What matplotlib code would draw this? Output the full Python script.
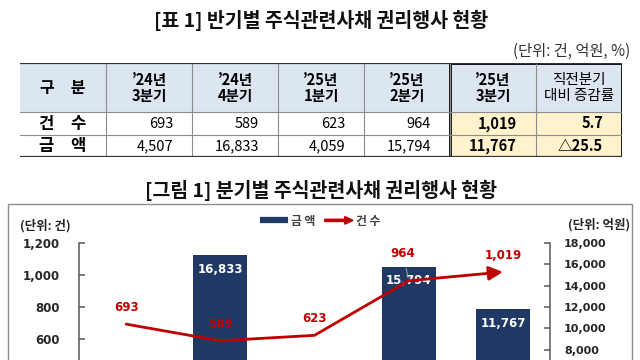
import numpy as np
import matplotlib
matplotlib.use('Agg')
import matplotlib.pyplot as plt
from matplotlib.patches import Rectangle, FancyArrow, Patch
from matplotlib.lines import Line2D
from matplotlib.legend_handler import HandlerPatch

plt.rcParams['font.family'] = ['Noto Sans CJK KR', 'DejaVu Sans']

# data
quarters = ["’24년\n3분기", "’24년\n4분기", "’25년\n1분기", "’25년\n2분기", "’25년\n3분기"]
change_header = "직전분기\n대비 증감률"
row_names = ["건\u3000수", "금\u3000액"]
counts = [693, 589, 623, 964, 1019]
amounts = [4507, 16833, 4059, 15794, 11767]
changes = ["5.7", "△25.5"]
count_ticks = [0, 200, 400, 600, 800, 1000, 1200]
amount_ticks = [0, 2000, 4000, 6000, 8000, 10000, 12000, 14000, 16000, 18000]

NAVY = '#1F3864'
RED = '#C00000'
GRID = '#8C8C8C'
W, H = 640, 360


def box(l, t, r, b):
    # pixel box (top-left origin) -> figure fraction
    return [l / W, 1 - b / H, (r - l) / W, (b - t) / H]


fig = plt.figure(figsize=(6.4, 3.6), dpi=100)

fig.text(321 / W, 1 - 20 / H, "[표 1] 반기별 주식관련사채 권리행사 현황",
         ha='center', va='center', fontsize=14, fontweight='bold', color='#111111')
fig.text(630 / W, 1 - 51 / H, "(단위: 건, 억원, %)", ha='right', va='center',
         fontsize=11, color='#333333')

# ---- table ----
tab = fig.add_axes(box(20, 63, 622, 157))
tab.set_xlim(0, 7)
tab.set_ylim(94, 0)
tab.axis('off')

header = ["구\u3000분"] + quarters + [change_header]
body = [[row_names[0]] + [f"{v:,}" for v in counts] + [changes[0]],
        [row_names[1]] + [f"{v:,}" for v in amounts] + [changes[1]]]
rows_y = [(49, 72), (72, 94)]

tab.add_patch(Rectangle((0, 0), 7, 49, fc='#DCE6F1', ec='none'))
tab.add_patch(Rectangle((5, 49), 2, 45, fc='#FFF2CC', ec='none'))

for xv in range(1, 7):
    tab.plot([xv, xv], [0, 94], color=GRID, lw=0.8)
for yv in (49, 72):
    tab.plot([0, 7], [yv, yv], color=GRID, lw=0.8)
tab.plot([0, 7], [0, 0], color='#333333', lw=1.6, solid_capstyle='butt')
tab.plot([0, 7], [94, 94], color='#333333', lw=1.6, solid_capstyle='butt')
tab.add_patch(Rectangle((5, 0), 2, 94, fill=False, ec='black', lw=2.0))

for i, txt in enumerate(header):
    if i == 0:
        tab.text(0.5, 25, txt, ha='center', va='center', fontsize=11.5, fontweight='bold')
    elif i == 6:
        tab.text(i + 0.5, 25, txt, ha='center', va='center', fontsize=10.5,
                 linespacing=1.1)
    else:
        tab.text(i + 0.5, 25, txt, ha='center', va='center', fontsize=10.5,
                 fontweight='bold', linespacing=0.95)

for r, row in enumerate(body):
    y0, y1 = rows_y[r]
    yc = (y0 + y1) / 2
    for i, txt in enumerate(row):
        if i == 0:
            tab.text(0.5, yc, txt, ha='center', va='center', fontsize=12, fontweight='bold')
        else:
            tab.text(i + 1 - 0.22, yc, txt, ha='right', va='center', fontsize=10.5,
                     fontweight='bold' if i >= 5 else 'normal')

# ---- chart ----
fig.text(321 / W, 1 - 190 / H, "[그림 1] 분기별 주식관련사채 권리행사 현황",
         ha='center', va='center', fontsize=14, fontweight='bold', color='#111111')
fig.add_artist(Rectangle((8 / W, -0.1), (632 - 8) / W, 1 - 204 / H + 0.1,
                         transform=fig.transFigure, fill=False, ec='#8C8C8C', lw=1))

fig.text(20 / W, 1 - 226 / H, "(단위: 건)", ha='left', va='center', fontsize=9,
         fontweight='bold', color='#262626')
fig.text(630 / W, 1 - 225 / H, "(단위: 억원)", ha='right', va='center', fontsize=9,
         fontweight='bold', color='#262626')

x = np.arange(len(counts))
axb = fig.add_axes(box(79, 243, 550, 435))
axb.patch.set_visible(False)
axb.bar(x, amounts, width=0.57, color=NAVY, zorder=2)
axb.set_xlim(-0.5, 4.5)
axb.set_ylim(0, 18000)

axl = axb.twinx()
axl.set_ylim(0, 1200)
axl.plot(x[:-1], counts[:-1], color=RED, lw=2, solid_joinstyle='round',
         solid_capstyle='round', zorder=3)
axl.annotate('', xy=(x[-1], counts[-1]), xytext=(x[-2], counts[-2]),
             arrowprops=dict(arrowstyle='-|>,head_length=0.7,head_width=0.35',
                             color=RED, lw=2, shrinkA=0, shrinkB=0,
                             mutation_scale=12))

for ax in (axb, axl):
    for s in ax.spines.values():
        s.set_visible(False)
    ax.set_xticks([])

axb.spines['right'].set_visible(True)
axb.spines['right'].set_color('#595959')
axb.spines['right'].set_linewidth(1.1)
axb.yaxis.tick_right()
axb.set_yticks(amount_ticks)
axb.set_yticklabels([f"{v:,}" for v in amount_ticks], family='DejaVu Sans',
                    fontweight='bold', fontsize=8, color='#262626')
axb.tick_params(axis='y', direction='in', length=4, width=1.1, color='#595959', pad=10)

axl.spines['left'].set_visible(True)
axl.spines['left'].set_color('#595959')
axl.spines['left'].set_linewidth(1.1)
axl.yaxis.tick_left()
axl.set_yticks(count_ticks)
axl.set_yticklabels([f"{v:,}" for v in count_ticks], family='DejaVu Sans',
                    fontweight='bold', fontsize=8.5, color='#262626')
axl.tick_params(axis='y', direction='in', length=4, width=1.1, color='#595959', pad=14)

bar_labels = []
for i, v in enumerate(amounts):
    bar_labels.append(axb.annotate(f"{v:,}", xy=(x[i], v), xytext=(0, -10),
                                   textcoords='offset points', ha='center', va='center',
                                   color='white', fontweight='bold', fontsize=8.5,
                                   family='DejaVu Sans'))

for i, v in enumerate(counts):
    if i == 3:
        axl.annotate(f"{v:,}", xy=(x[i], v), xytext=(-4, 19.5), textcoords='offset points',
                     ha='center', va='center', color=RED, fontweight='bold',
                     fontsize=8.5, family='DejaVu Sans',
                     arrowprops=dict(arrowstyle='-', color='#A6A6A6', lw=0.7,
                                     shrinkA=4, shrinkB=2))
    else:
        axl.annotate(f"{v:,}", xy=(x[i], v), xytext=(0, 12), textcoords='offset points',
                     ha='center', va='center', color=RED, fontweight='bold',
                     fontsize=8.5, family='DejaVu Sans')


def make_arrow(legend, orig_handle, xdescent, ydescent, width, height, fontsize):
    return FancyArrow(0, height / 2, width, 0, width=1.6, head_width=5.5, head_length=6,
                      length_includes_head=True, color=RED)


handles = [Line2D([], [], color=NAVY, lw=4.5, solid_capstyle='butt'), Patch(color=RED)]
fig.legend(handles, ["금 액", "건 수"], loc='center', bbox_to_anchor=(320 / W, 1 - 221 / H),
           ncol=2, frameon=False, handlelength=2.4, handletextpad=0.25,
           columnspacing=0.8, handler_map={Patch: HandlerPatch(patch_func=make_arrow)},
           prop={'weight': 'bold', 'size': 8.5}, labelcolor='#404040')

# the chart runs past the bottom of the page; hide texts that fall below it
fig.canvas.draw()
renderer = fig.canvas.get_renderer()
hidden = bar_labels + axb.get_yticklabels() + axl.get_yticklabels()
for t in hidden:
    if t.get_window_extent(renderer).y0 < 2:
        t.set_visible(False)

fig.savefig('out.png', dpi=100)
